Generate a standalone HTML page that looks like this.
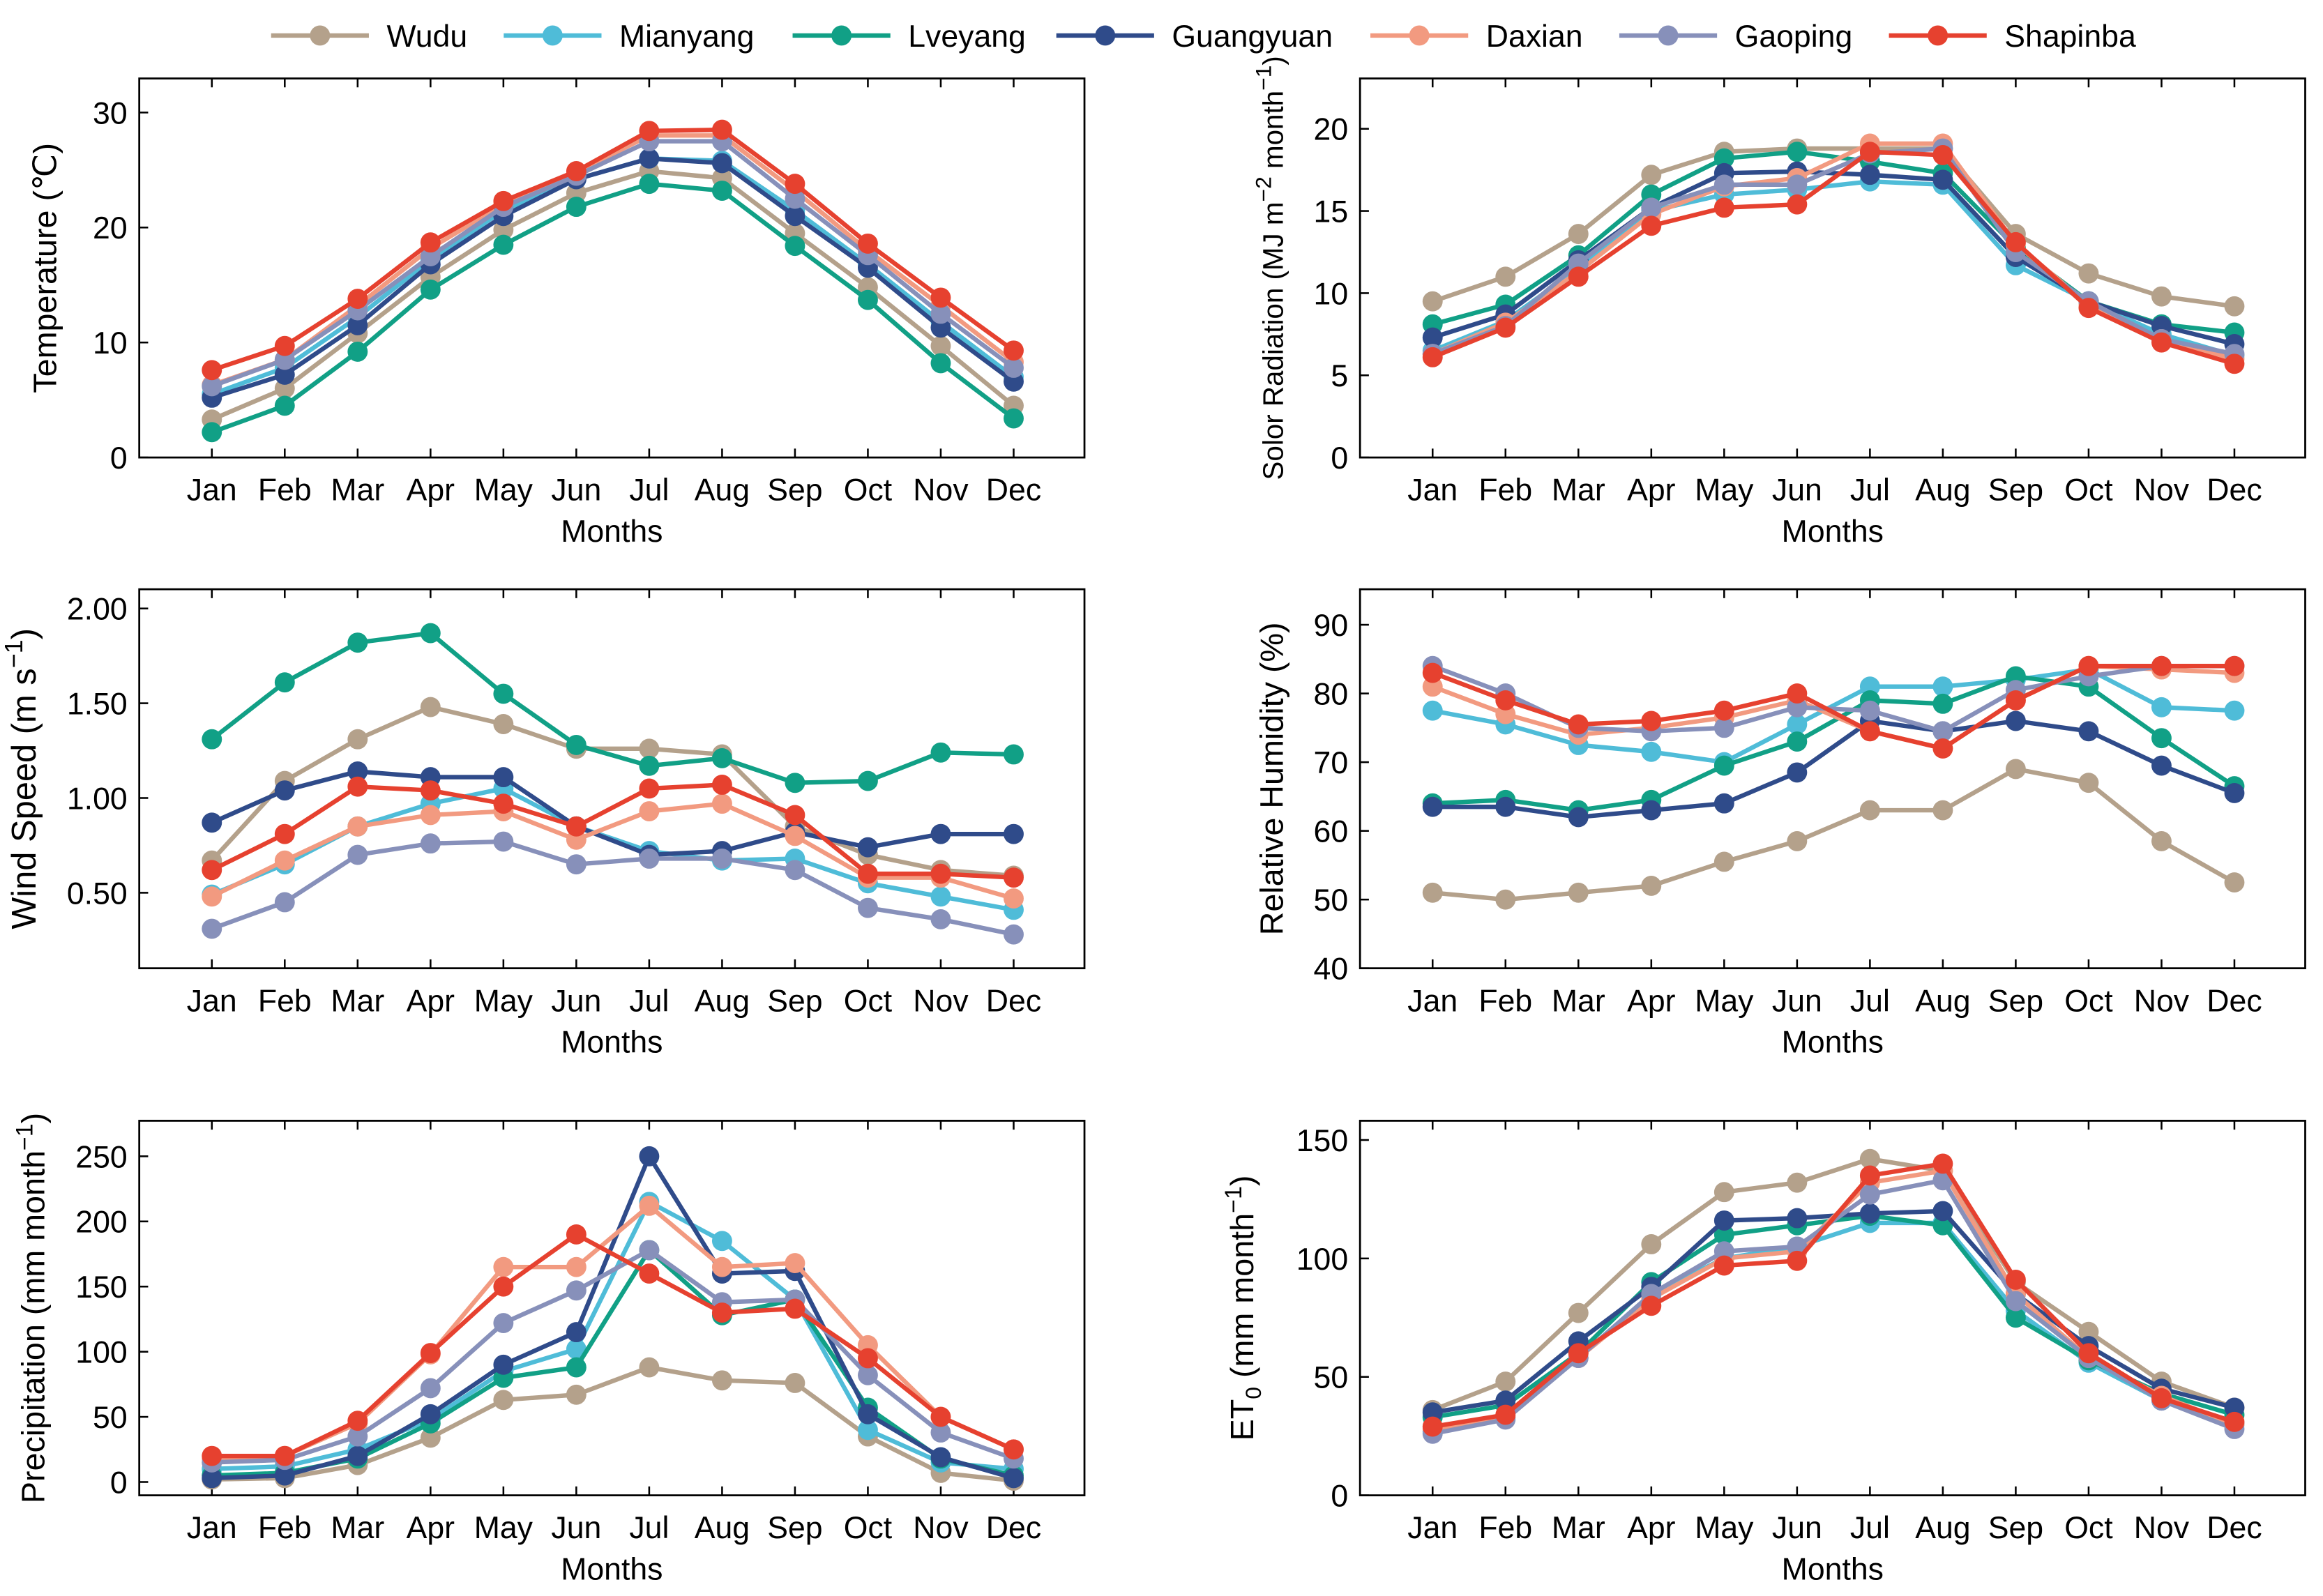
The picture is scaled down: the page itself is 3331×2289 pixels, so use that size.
<!DOCTYPE html>
<html><head><meta charset="utf-8"><style>
html,body{margin:0;padding:0;background:#fff;}
svg{display:block;font-family:"Liberation Sans",Arial,sans-serif;}
</style></head><body>
<svg id="fig" width="3331" height="2289" viewBox="0 0 1568 1078" preserveAspectRatio="none" xmlns="http://www.w3.org/2000/svg"></svg>
<script>
const months = ["Jan","Feb","Mar","Apr","May","Jun","Jul","Aug","Sep","Oct","Nov","Dec"];
const stations = ["Wudu","Mianyang","Lveyang","Guangyuan","Daxian","Gaoping","Shapinba"];
const colors = ["#b4a18b","#4fbcd8","#11a086","#2f4b8a","#f29a80","#8790ba","#e6412f"];

const tempWudu=[3.3,6.0,10.8,15.7,19.8,23.0,24.9,24.3,19.5,14.8,9.7,4.5];
const tempMianyang=[5.5,7.8,12.2,17.2,21.5,24.2,26.0,25.8,21.5,16.8,11.8,7.0];
const tempLveyang=[2.2,4.5,9.2,14.6,18.5,21.8,23.8,23.2,18.4,13.7,8.2,3.4];
const tempGuangyuan=[5.2,7.2,11.5,16.8,21.0,24.2,26.0,25.6,21.0,16.5,11.3,6.6];
const tempDaxian=[6.3,8.5,13.2,18.2,22.0,24.8,28.0,28.0,23.2,18.0,13.2,8.3];
const tempGaoping=[6.2,8.5,12.8,17.5,21.8,24.5,27.5,27.5,22.5,17.6,12.5,7.8];
const tempShapinba=[7.6,9.7,13.8,18.7,22.3,24.9,28.4,28.5,23.8,18.6,13.9,9.3];

const solWudu=[9.5,11.0,13.6,17.2,18.6,18.8,18.8,18.8,13.6,11.2,9.8,9.2];
const solMianyang=[6.5,8.3,11.5,15.0,16.0,16.3,16.8,16.6,11.7,9.5,7.5,6.2];
const solLveyang=[8.1,9.3,12.3,16.0,18.2,18.6,18.0,17.3,12.8,9.5,8.1,7.6];
const solGuangyuan=[7.3,8.7,12.0,15.2,17.3,17.4,17.2,16.9,12.2,9.5,8.0,6.9];
const solDaxian=[6.3,8.2,11.3,14.8,16.5,17.0,19.1,19.1,13.0,9.3,7.2,6.0];
const solGaoping=[6.3,8.0,11.8,15.2,16.6,16.6,18.5,18.8,12.5,9.5,7.2,6.3];
const solShapinba=[6.1,7.9,11.0,14.1,15.2,15.4,18.6,18.4,13.1,9.1,7.0,5.7];

const windWudu=[0.67,1.09,1.31,1.48,1.39,1.26,1.26,1.23,0.85,0.70,0.62,0.59];
const windMianyang=[0.49,0.65,0.85,0.97,1.05,0.85,0.72,0.67,0.68,0.55,0.48,0.41];
const windLveyang=[1.31,1.61,1.82,1.87,1.55,1.28,1.17,1.21,1.08,1.09,1.24,1.23];
const windGuangyuan=[0.87,1.04,1.14,1.11,1.11,0.85,0.70,0.72,0.82,0.74,0.81,0.81];
const windDaxian=[0.48,0.67,0.85,0.91,0.93,0.78,0.93,0.97,0.80,0.58,0.58,0.47];
const windGaoping=[0.31,0.45,0.70,0.76,0.77,0.65,0.68,0.68,0.62,0.42,0.36,0.28];
const windShapinba=[0.62,0.81,1.06,1.04,0.97,0.85,1.05,1.07,0.91,0.60,0.60,0.58];

const rhWudu=[51,50,51,52,55.5,58.5,63,63,69,67,58.5,52.5];
const rhMianyang=[77.5,75.5,72.5,71.5,70,75.5,81,81,82,83.5,78,77.5];
const rhLveyang=[64,64.5,63,64.5,69.5,73,79,78.5,82.5,81,73.5,66.5];
const rhGuangyuan=[63.5,63.5,62,63,64,68.5,76,74.5,76,74.5,69.5,65.5];
const rhDaxian=[81,77,74,75,76.5,79,74.5,72,79,84,83.5,83];
const rhGaoping=[84,80,75,74.5,75,78,77.5,74.5,80.5,82.5,84,84];
const rhShapinba=[83,79,75.5,76,77.5,80,74.5,72,79,84,84,84];

const preWudu=[2,3,13,34,63,67,88,78,76,35,7,1];
const preMianyang=[10,12,25,48,85,102,215,185,140,40,15,10];
const preLveyang=[5,7,18,45,80,88,178,128,140,57,18,5];
const preGuangyuan=[3,5,20,52,90,115,250,160,162,52,19,3];
const preDaxian=[18,20,45,98,165,165,212,165,168,105,50,25];
const preGaoping=[15,17,35,72,122,147,178,138,140,82,38,18];
const preShapinba=[20,20,47,99,150,190,160,130,133,95,50,25];

const etWudu=[36,48,77,106,128,132,142,137,90,69,48,37];
const etMianyang=[27,33,58,85,100,105,115,115,78,56,40,30];
const etLveyang=[33,38,60,90,110,114,118,114,75,57,43,34];
const etGuangyuan=[35,40,65,88,116,117,119,120,85,63,45,37];
const etDaxian=[28,33,58,83,100,103,132,137,85,58,42,30];
const etGaoping=[26,32,58,85,103,105,127,133,82,58,40,28];
const etShapinba=[29,34,60,80,97,99,135,140,91,60,41,31];

const tempTicks=[0,10,20,30];
const solTicks=[0,5,10,15,20];
const windTicks=["0.50","1.00","1.50","2.00"];
const rhTicks=[40,50,60,70,80,90];
const preTicks=[0,50,100,150,200,250];
const etTicks=[0,50,100,150];

const NS="http://www.w3.org/2000/svg";
const svg=document.getElementById("fig");
function mk(tag,attrs,parent){const e=document.createElementNS(NS,tag);for(const k in attrs)e.setAttribute(k,attrs[k]);(parent||svg).appendChild(e);return e;}

const panels=[
 {key:"temperature",x0:94,x1:732,y0:53,y1:309,ymin:0,ymax:30,yTop:76,yBot:309,ticks:tempTicks,series:[tempWudu,tempMianyang,tempLveyang,tempGuangyuan,tempDaxian,tempGaoping,tempShapinba],title:"Temperature (℃)",tx:38,fs:22},
 {key:"solar-radiation",x0:918,x1:1556,y0:53,y1:309,ymin:0,ymax:20,yTop:87,yBot:309,ticks:solTicks,series:[solWudu,solMianyang,solLveyang,solGuangyuan,solDaxian,solGaoping,solShapinba],title:'Solor Radiation (MJ m<tspan dy="-8" font-size="15">−2</tspan><tspan dy="8"> month</tspan><tspan dy="-8" font-size="15">−1</tspan><tspan dy="8">)</tspan>',tx:866,fs:19},
 {key:"wind-speed",x0:94,x1:732,y0:398,y1:654,ymin:0.5,ymax:2.0,yTop:411,yBot:603,ticks:windTicks,series:[windWudu,windMianyang,windLveyang,windGuangyuan,windDaxian,windGaoping,windShapinba],title:'Wind Speed (m s<tspan dy="-9" font-size="17">−1</tspan><tspan dy="9">)</tspan>',tx:24,fs:23},
 {key:"relative-humidity",x0:918,x1:1556,y0:398,y1:654,ymin:40,ymax:90,yTop:422,yBot:654,ticks:rhTicks,series:[rhWudu,rhMianyang,rhLveyang,rhGuangyuan,rhDaxian,rhGaoping,rhShapinba],title:"Relative Humidity (%)",tx:866,fs:22},
 {key:"precipitation",x0:94,x1:732,y0:757,y1:1010,ymin:0,ymax:250,yTop:781,yBot:1001,ticks:preTicks,series:[preWudu,preMianyang,preLveyang,preGuangyuan,preDaxian,preGaoping,preShapinba],title:'Precipitation (mm month<tspan dy="-8" font-size="16">−1</tspan><tspan dy="8">)</tspan>',tx:30,fs:22},
 {key:"et0",x0:918,x1:1556,y0:757,y1:1010,ymin:0,ymax:150,yTop:770,yBot:1010,ticks:etTicks,series:[etWudu,etMianyang,etLveyang,etGuangyuan,etDaxian,etGaoping,etShapinba],title:'ET<tspan dy="5" font-size="15">0</tspan><tspan dy="-5"> (mm month</tspan><tspan dy="-8" font-size="16">−1</tspan><tspan dy="8">)</tspan>',tx:846,fs:22}
];

panels.forEach(p=>{
  const g=mk("g",{});
  
  
  const xs=p.x0+49; const step=49.2;
  const xScale=i=>xs+i*step;
  const yScale=v=>p.yBot-(v-p.ymin)/(p.ymax-p.ymin)*(p.yBot-p.yTop);
  const box=mk("rect",{x:p.x0,y:p.y0,width:p.x1-p.x0,height:p.y1-p.y0,fill:"none",stroke:"#000","stroke-width":1.3},g);
  
  
  months.forEach((m,i)=>{
    const x=xScale(i);
    mk("line",{x1:x,x2:x,y1:p.y1,y2:p.y1-6,stroke:"#000","stroke-width":1.2},g);
    mk("line",{x1:x,x2:x,y1:p.y0,y2:p.y0+6,stroke:"#000","stroke-width":1.2},g);
    const t=mk("text",{x:x,y:p.y1+29,"text-anchor":"middle","font-size":21,fill:"#000"},g);
    t.textContent=m;
    
    
  });
  const xt=mk("text",{x:(p.x0+p.x1)/2,y:p.y1+57,"text-anchor":"middle","font-size":21,fill:"#000"},g);
  xt.textContent="Months";
  
  
  p.ticks.forEach(tv=>{
    const y=yScale(parseFloat(tv));
    mk("line",{x1:p.x0,x2:p.x0+6,y1:y,y2:y,stroke:"#000","stroke-width":1.2},g);
    const t=mk("text",{x:p.x0-8,y:y+7.5,"text-anchor":"end","font-size":21,fill:"#000"},g);
    t.textContent=String(tv);
    
    
  });
  const cy=(p.y0+p.y1)/2;
  const yt=mk("text",{x:p.tx,y:cy,"text-anchor":"middle","font-size":p.fs,fill:"#000",transform:`rotate(-90 ${p.tx} ${cy})`},g);
  yt.innerHTML=p.title;
  
  
  p.series.forEach((vals,si)=>{
    const sg=mk("g",{},g);
    
    
    const pts=vals.map((v,i)=>xScale(i)+","+yScale(v)).join(" ");
    mk("polyline",{points:pts,fill:"none",stroke:colors[si],"stroke-width":3,"stroke-linejoin":"round"},sg);
    vals.forEach((v,i)=>{
      const c=mk("circle",{cx:xScale(i),cy:yScale(v),r:6.8,fill:colors[si]},sg);
      
      
    });
  });
});

const legX=[183,340,535,713,925,1093,1275];
const legG=mk("g",{});


stations.forEach((s,i)=>{
  const e=mk("g",{},legG);
  
  
  const x=legX[i];
  mk("line",{x1:x,x2:x+66,y1:24,y2:24,stroke:colors[i],"stroke-width":3},e);
  mk("circle",{cx:x+33,cy:24,r:6.8,fill:colors[i]},e);
  const t=mk("text",{x:x+78,y:31.5,"font-size":21,fill:"#000"},e);
  t.textContent=s;
});
</script>
</body></html>
